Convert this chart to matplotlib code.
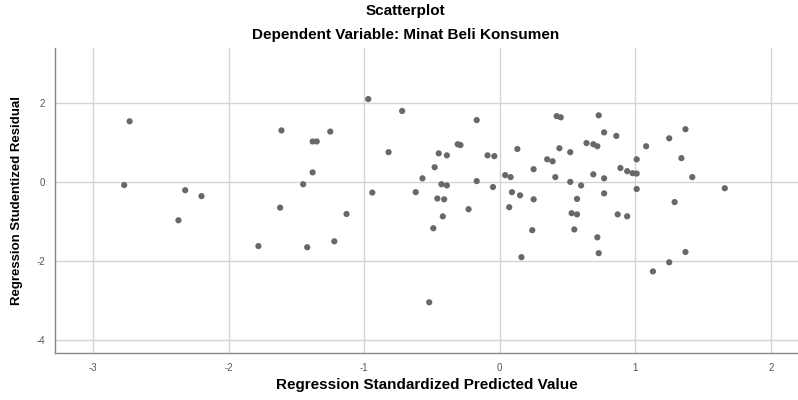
import matplotlib
matplotlib.use("Agg")
import matplotlib.pyplot as plt

plt.rcParams["font.family"] = ["Liberation Sans", "DejaVu Sans"]
plt.rcParams["axes.unicode_minus"] = False

# standardized predicted value (x) and studentized residual (y)
pred = [
    -2.73, -2.77, -2.32, -2.20, -2.37,
    -1.61, -1.38, -1.35, -1.25, -1.38, -1.45, -1.62, -1.78, -1.42, -1.22, -1.13,
    -0.97, -0.82, -0.94, -0.72,
    -0.17, -0.31, -0.29, -0.45, -0.39, -0.48, -0.57, -0.62, -0.43, -0.39,
    -0.17, -0.05, -0.09, -0.04, -0.46, -0.41, -0.23, -0.42, -0.49, -0.52,
    0.04, 0.08, 0.13, 0.25, 0.09, 0.15, 0.25, 0.07, 0.24, 0.16,
    0.42, 0.45, 0.73, 0.44, 0.52, 0.35, 0.39, 0.41, 0.52, 0.60,
    0.64, 0.69, 0.72, 0.77, 0.86, 0.69, 0.77, 0.77, 0.57, 0.53,
    0.57, 0.55, 0.72, 0.73, 0.87, 0.94,
    0.89, 0.94, 0.98, 1.01, 1.01, 1.08, 1.25, 1.37, 1.34, 1.42,
    1.01, 1.66, 1.29, 1.13, 1.25, 1.37,
]
resid = [
    1.53, -0.08, -0.21, -0.36, -0.97,
    1.30, 1.02, 1.02, 1.27, 0.24, -0.06, -0.65, -1.62, -1.65, -1.50, -0.81,
    2.09, 0.75, -0.27, 1.79,
    1.56, 0.95, 0.93, 0.72, 0.67, 0.37, 0.09, -0.26, -0.06, -0.09,
    0.02, -0.13, 0.67, 0.65, -0.42, -0.44, -0.69, -0.87, -1.17, -3.04,
    0.17, 0.12, 0.83, 0.32, -0.26, -0.34, -0.44, -0.64, -1.22, -1.90,
    1.66, 1.63, 1.68, 0.85, 0.75, 0.57, 0.52, 0.12, 0.00, -0.09,
    0.98, 0.95, 0.90, 1.25, 1.16, 0.19, 0.09, -0.29, -0.43, -0.79,
    -0.82, -1.20, -1.40, -1.80, -0.82, -0.87,
    0.35, 0.27, 0.22, 0.21, 0.57, 0.90, 1.10, 1.33, 0.60, 0.12,
    -0.18, -0.16, -0.51, -2.26, -2.03, -1.77,
]

x_ticks = [-3, -2, -1, 0, 1, 2]
y_ticks = [-4, -2, 0, 2]

fig = plt.figure(figsize=(7.98, 4.0), dpi=100)
ax = fig.add_axes([0.069, 0.1175, 0.931, 0.7625])

ax.scatter(pred, resid, s=20, color="#686868", edgecolors="none", zorder=3)

ax.set_xlim(-3.28, 2.2)
ax.set_ylim(-4.32, 3.38)
ax.set_xticks(x_ticks)
ax.set_yticks(y_ticks)
ax.grid(True, color="#d4d4d4", linewidth=1.0)
ax.set_axisbelow(True)

for side in ["top", "right"]:
    ax.spines[side].set_visible(False)
for side in ["left", "bottom"]:
    ax.spines[side].set_color("#888888")
    ax.spines[side].set_linewidth(1.0)

ax.tick_params(length=0, labelsize=7, labelcolor="#555555", pad=7)

ax.set_xlabel("Regression Standardized Predicted Value", fontsize=11,
              fontweight="bold", labelpad=4)
ax.set_ylabel("Regression Studentized Residual", fontsize=9.5,
              fontweight="bold", labelpad=10)

fig.text(0.508, 0.99, "Scatterplot", ha="center", va="top",
         fontsize=11, fontweight="bold")
fig.text(0.508, 0.93, "Dependent Variable: Minat Beli Konsumen", ha="center",
         va="top", fontsize=11, fontweight="bold")

fig.savefig("out.png", dpi=100)
